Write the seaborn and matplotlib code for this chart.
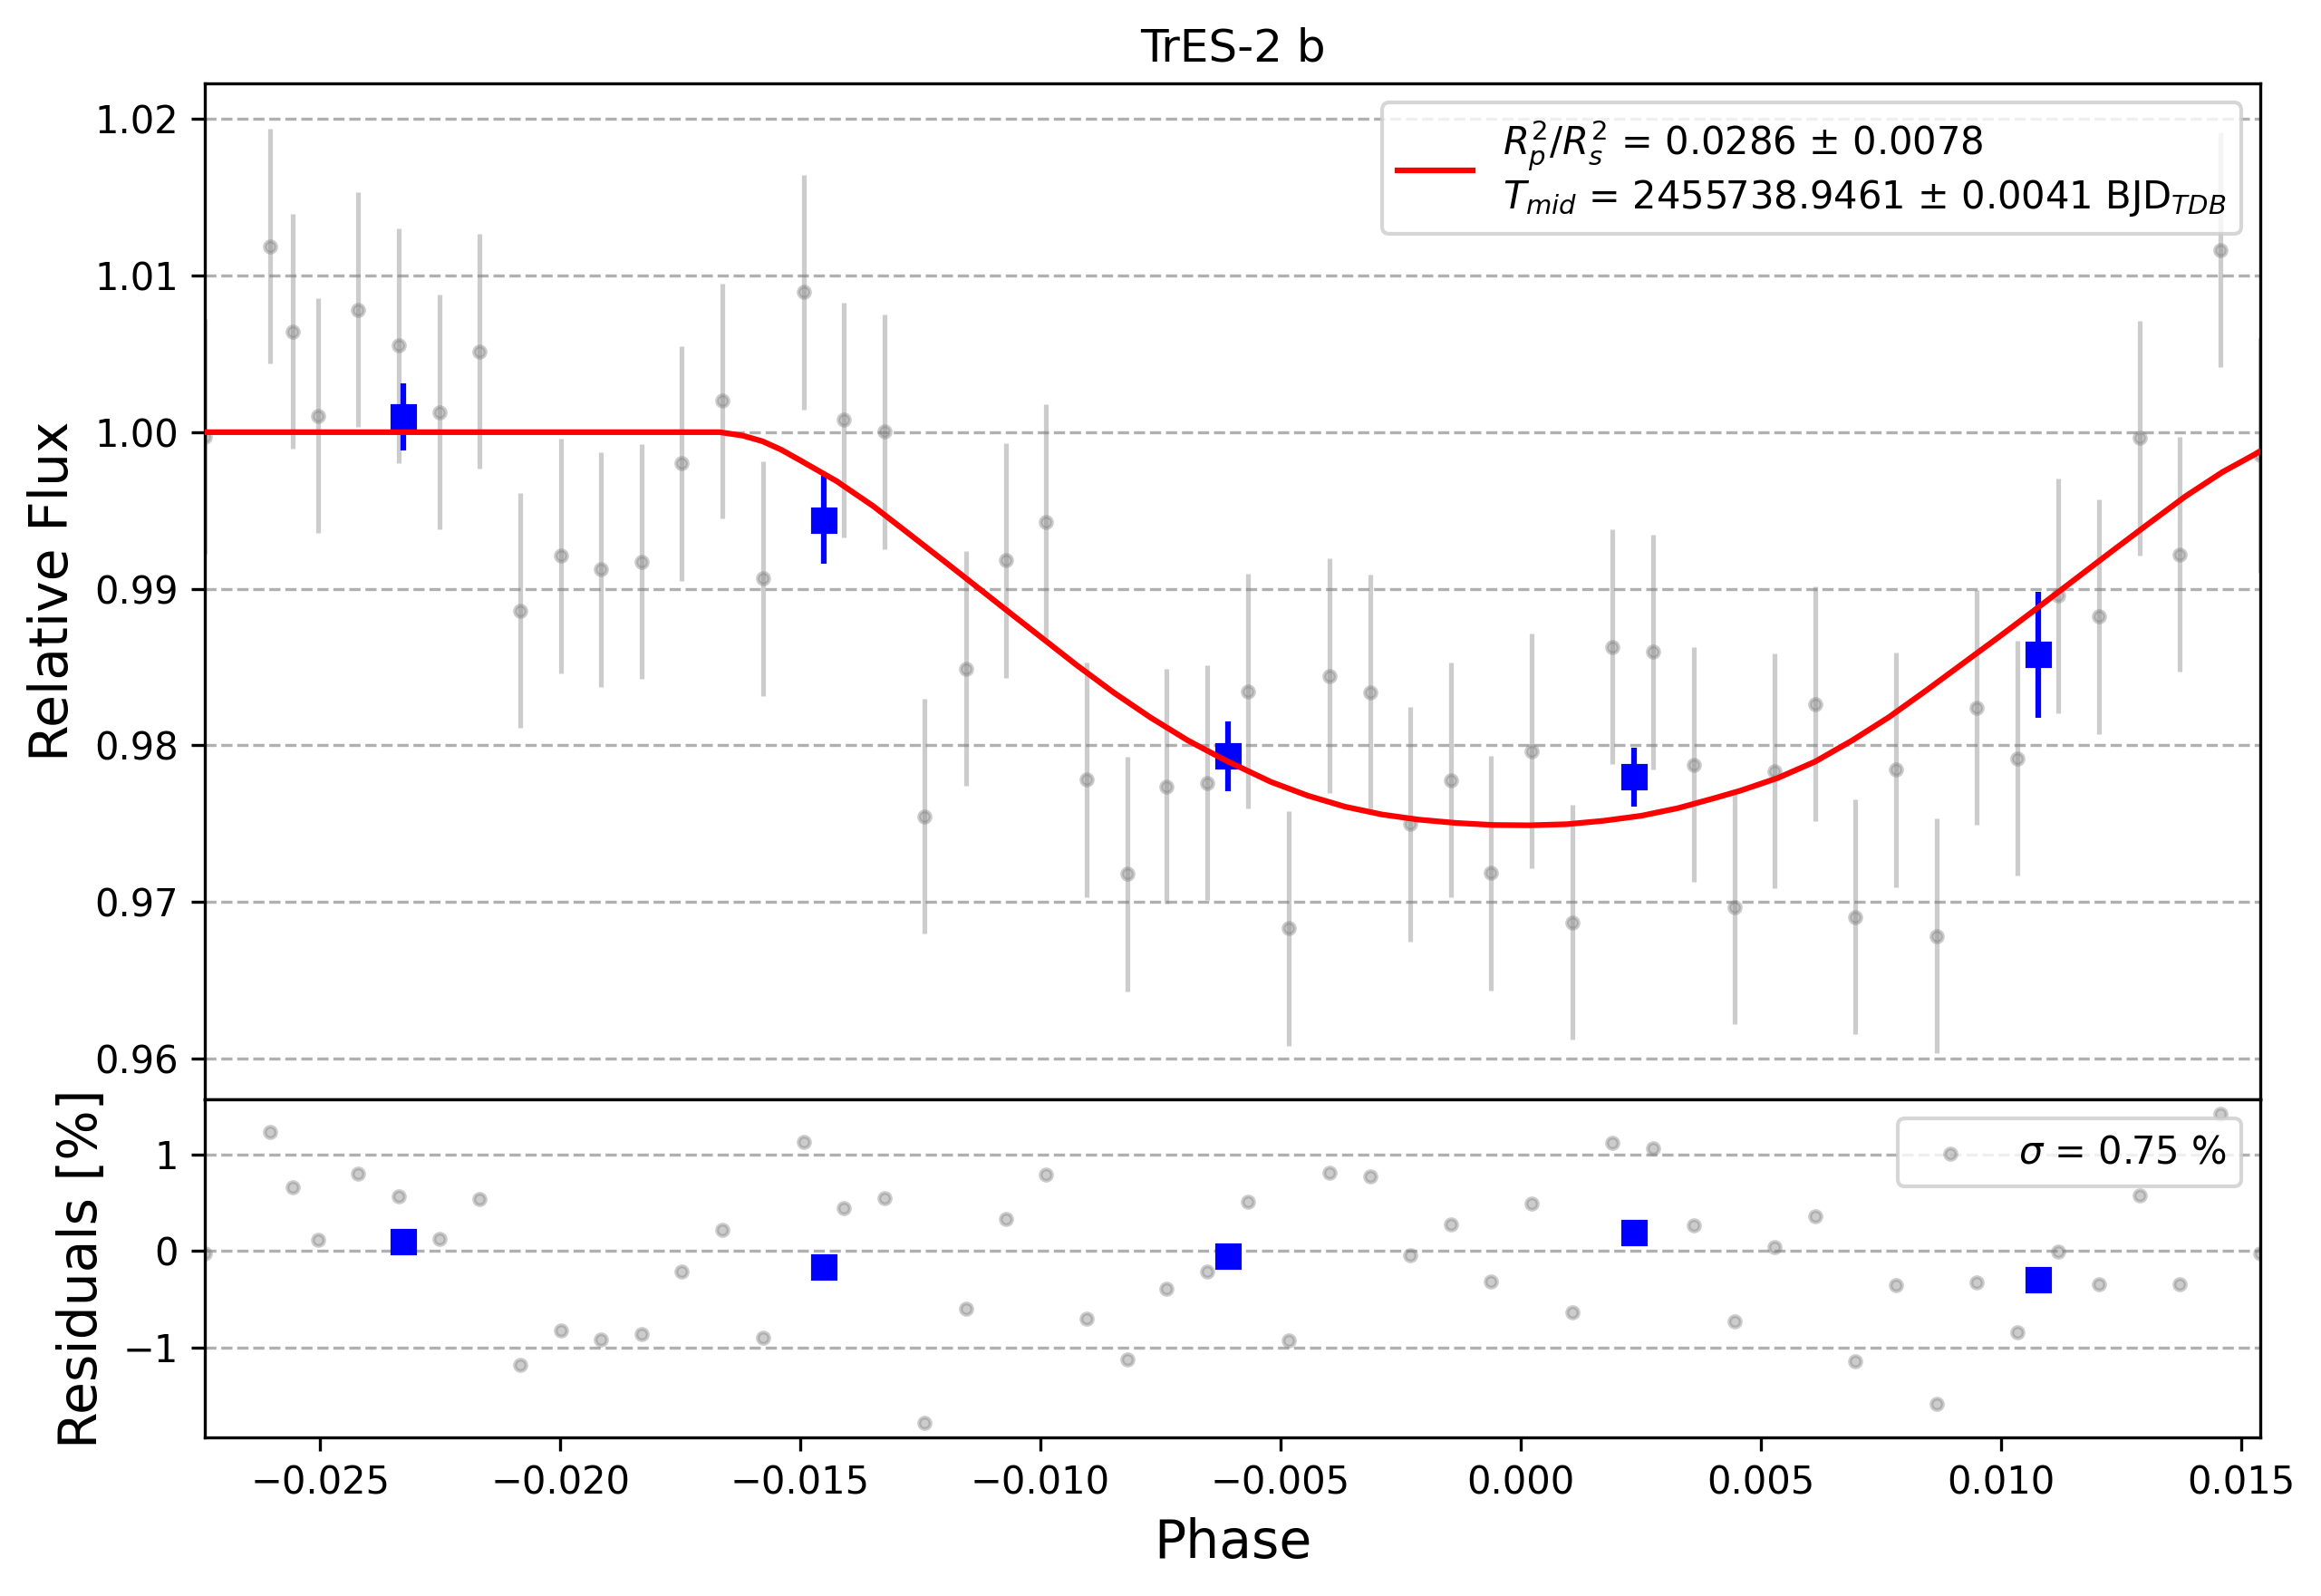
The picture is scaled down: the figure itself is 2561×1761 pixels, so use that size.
import numpy as np
import pandas as pd
import matplotlib
matplotlib.use("Agg")
import matplotlib.pyplot as plt
import seaborn as sns

# datos
phase = [-0.02740, -0.02605, -0.02556, -0.02505, -0.02421, -0.02337, -0.02252, -0.02169,
         -0.02084, -0.01999, -0.01916, -0.01831, -0.01748, -0.01663, -0.01578, -0.01493,
         -0.01410, -0.01325, -0.01241, -0.01155, -0.01071, -0.00988, -0.00903, -0.00819,
         -0.00737, -0.00652, -0.00568, -0.00483, -0.00398, -0.00313, -0.00230, -0.00145,
         -0.00062, 0.00023, 0.00108, 0.00191, 0.00276, 0.00360, 0.00445, 0.00528,
         0.00613, 0.00697, 0.00782, 0.00866, 0.00950, 0.01035, 0.01119, 0.01203,
         0.01288, 0.01371, 0.01456, 0.01540]
flux = [0.99972, 1.01187, 1.00642, 1.00106, 1.00781, 1.00554, 1.00129, 1.00517,
        0.98859, 0.99210, 0.99122, 0.99173, 0.99801, 1.00200, 0.99064, 1.00896,
        1.00078, 1.00002, 0.97546, 0.98490, 0.99181, 0.99426, 0.97779, 0.97178,
        0.97737, 0.97760, 0.98343, 0.96831, 0.98443, 0.98337, 0.97497, 0.97778,
        0.97182, 0.97963, 0.96868, 0.98628, 0.98596, 0.97875, 0.96965, 0.97834,
        0.98263, 0.96901, 0.97843, 0.96781, 0.98240, 0.97917, 0.98956, 0.98822,
        0.99963, 0.99219, 1.01164, 0.99852]
flux_err = [0.0075] * len(phase)
residuals = [-0.03, 1.226, 0.660, 0.111, 0.801, 0.566, 0.127, 0.533,
             -1.183, -0.827, -0.915, -0.864, -0.211, 0.214, -0.901, 1.129,
             0.446, 0.546, -1.776, -0.593, 0.332, 0.791, -0.697, -1.126,
             -0.389, -0.211, 0.509, -0.921, 0.811, 0.767, -0.040, 0.275,
             -0.315, 0.486, -0.633, 1.119, 1.059, 0.268, -0.724, 0.044,
             0.362, -1.139, -0.352, -1.585, -0.322, -0.844, -0.010, -0.348,
             0.576, -0.342, 1.417, -0.03]

bin_phase = [-0.02326, -0.01451, -0.00610, 0.00235, 0.01077]
bin_flux = [1.00097, 0.99440, 0.97929, 0.97796, 0.98578]
bin_err = [0.00213, 0.00280, 0.00222, 0.00187, 0.00404]
bin_resid = [0.100, -0.162, -0.050, 0.194, -0.295]

model_phase = [-0.02740, -0.01668, -0.01620, -0.01579, -0.01540, -0.01502, -0.01425, -0.01348,
               -0.01271, -0.01194, -0.01140, -0.01078, -0.01001, -0.00924, -0.00847, -0.00770,
               -0.00693, -0.00616, -0.00520, -0.00443, -0.00366, -0.00289, -0.00212, -0.00135,
               -0.00058, 0.00019, 0.00096, 0.00173, 0.00251, 0.00328, 0.00405, 0.00458,
               0.00535, 0.00613, 0.00690, 0.00767, 0.00844, 0.00921, 0.00998, 0.01075,
               0.01152, 0.01229, 0.01307, 0.01384, 0.01461, 0.01540]
model_flux = [1.00000, 1.00000, 0.99978, 0.99942, 0.99888, 0.99823, 0.99688, 0.99527,
              0.99344, 0.99160, 0.99030, 0.98880, 0.98695, 0.98510, 0.98335, 0.98175,
              0.98030, 0.97905, 0.97765, 0.97677, 0.97607, 0.97557, 0.97524, 0.97503,
              0.97490, 0.97488, 0.97495, 0.97517, 0.97549, 0.97598, 0.97663, 0.97710,
              0.97790, 0.97895, 0.98030, 0.98180, 0.98349, 0.98523, 0.98697, 0.98875,
              0.99055, 0.99235, 0.99415, 0.99590, 0.99745, 0.99878]

label_fit = ("$R_{p}^{2}/R_{s}^{2}$ = 0.0286 ± 0.0078\n"
             "$T_{mid}$ = 2455738.9461 ± 0.0041 BJD$_{TDB}$")
label_sigma = r"$\sigma$ = 0.75 %"

model = pd.DataFrame({"phase": model_phase, "flux": model_flux})
resid = pd.DataFrame({"phase": phase, "resid": residuals})

fig, (ax1, ax2) = plt.subplots(2, 1, figsize=(8.54, 5.87), sharex=True,
                               gridspec_kw={"height_ratios": [3, 1], "hspace": 0})
fig.subplots_adjust(left=0.0882, right=0.9735, top=0.9475, bottom=0.0991)

# panel principal
ax1.errorbar(phase, flux, yerr=flux_err, fmt="o", color="gray", alpha=0.4,
             ms=3, elinewidth=1.25, zorder=2)
ax1.errorbar(bin_phase, bin_flux, yerr=bin_err, fmt="s", color="blue",
             ms=6, elinewidth=1.5, zorder=3)
sns.lineplot(data=model, x="phase", y="flux", color="red", lw=1.5, label=label_fit,
             ax=ax1, zorder=4, sort=False)
ax1.set_title("TrES-2 b")
ax1.set_ylabel("Relative Flux", fontsize=14)
ax1.set_xlabel("")
ax1.grid(axis="y", ls="--")
ax1.set_ylim(0.95737, 1.02226)
ax1.tick_params(axis="x", bottom=False, labelbottom=False)
ax1.legend(loc="upper right")

# residuos
sns.scatterplot(data=resid, x="phase", y="resid", color="gray", alpha=0.4, s=9,
                edgecolor="gray", linewidth=1, label=label_sigma, ax=ax2, zorder=2)
ax2.plot(bin_phase, bin_resid, "s", color="blue", ms=6, zorder=3)
ax2.set_ylabel("Residuals [%]", fontsize=14)
ax2.set_xlabel("Phase", fontsize=14)
ax2.grid(axis="y", ls="--")
ax2.set_ylim(-1.933, 1.568)
ax2.legend(loc="upper right")
ax2.set_xlim(phase[0], phase[-1])

plt.savefig("out.png", dpi=300)
plt.close()
